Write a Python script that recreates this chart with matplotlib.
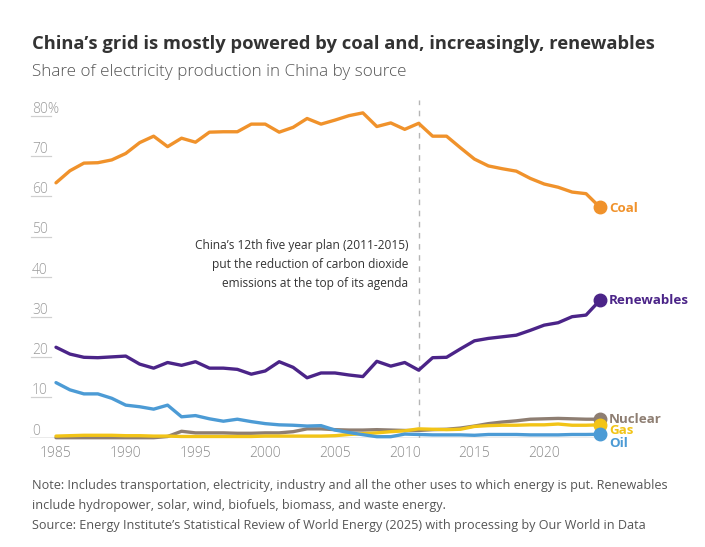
import matplotlib
matplotlib.use("Agg")
import matplotlib.pyplot as plt
import matplotlib.transforms as mtransforms

years = list(range(1985, 2025))
coal = [63.4, 66.4, 68.3, 68.4, 69.1, 70.7, 73.4, 75.0, 72.4, 74.5,
        73.5, 76.0, 76.1, 76.1, 78.0, 78.0, 76.0, 77.2, 79.4, 78.0,
        79.0, 80.1, 80.8, 77.4, 78.3, 76.7, 78.2, 75.0, 75.0, 72.1,
        69.3, 67.6, 66.9, 66.3, 64.5, 63.1, 62.3, 61.1, 60.7, 57.3]
renewables = [22.5, 20.8, 20.0, 19.9, 20.1, 20.3, 18.3, 17.3, 18.7, 18.0,
              18.9, 17.3, 17.3, 17.0, 15.8, 16.6, 18.9, 17.5, 14.9, 16.1,
              16.1, 15.6, 15.2, 19.0, 17.8, 18.7, 16.8, 19.9, 20.0, 22.1,
              24.1, 24.7, 25.1, 25.5, 26.7, 28.0, 28.6, 30.1, 30.5, 34.2]
oil = [13.7, 11.9, 10.9, 10.9, 9.8, 8.1, 7.7, 7.1, 8.1, 5.2,
       5.5, 4.7, 4.1, 4.6, 4.0, 3.5, 3.2, 3.1, 2.9, 3.0,
       1.9, 1.3, 0.75, 0.25, 0.25, 0.9, 0.8, 0.7, 0.7, 0.7,
       0.6, 0.8, 0.8, 0.8, 0.7, 0.7, 0.7, 0.8, 0.8, 0.85]
gas = [0.4, 0.5, 0.6, 0.6, 0.6, 0.5, 0.5, 0.4, 0.4, 0.3,
       0.3, 0.3, 0.3, 0.3, 0.3, 0.4, 0.4, 0.4, 0.4, 0.4,
       0.5, 0.8, 1.0, 1.2, 1.5, 1.7, 2.2, 2.1, 2.0, 2.1,
       2.8, 3.0, 3.1, 3.1, 3.2, 3.2, 3.4, 3.1, 3.1, 3.2]
nuclear = [0.0, 0.0, 0.0, 0.0, 0.0, 0.0, 0.0, 0.0, 0.3, 1.6,
           1.2, 1.2, 1.2, 1.1, 1.1, 1.2, 1.2, 1.5, 2.2, 2.2,
           2.0, 1.9, 1.9, 2.0, 1.9, 1.8, 1.8, 2.0, 2.1, 2.4,
           2.9, 3.5, 3.9, 4.2, 4.6, 4.7, 4.8, 4.7, 4.6, 4.6]

yticks = [0, 10, 20, 30, 40, 50, 60, 70, 80]
ytick_labels = ["0", "10", "20", "30", "40", "50", "60", "70", "80%"]
xticks = [1985, 1990, 1995, 2000, 2005, 2010, 2015, 2020]

C_COAL = "#F0922B"
C_REN = "#4B2488"
C_OIL = "#4C9BD5"
C_GAS = "#F2C417"
C_NUC = "#8E7E72"

plt.rcParams['font.family'] = ['Open Sans', 'DejaVu Sans']

W, H = 705, 547
fig = plt.figure(figsize=(W / 100, H / 100), dpi=100)
ax_left, ax_right = 30 / W, 600 / W
ax_bottom = 1 - 437.7 / H
ax_top = 1 - 100 / H
ax = fig.add_axes([ax_left, ax_bottom, ax_right - ax_left, ax_top - ax_bottom])
ax.set_xlim(1985 - 26 / 13.95, 2024)
ax.set_ylim(0, 84)
for s in ax.spines.values():
    s.set_visible(False)
ax.set_yticks([])
ax.set_xticks(xticks)
ax.set_xticklabels([str(x) for x in xticks], color="#8a8a8a", fontsize=10,
                   fontweight="light")
ax.tick_params(axis="x", length=0, pad=6)

# baseline
ax.axhline(0, color="#9a9a9a", lw=1.0, zorder=1)

# y labels with short underlines
trans = mtransforms.blended_transform_factory(fig.transFigure, ax.transData)
for v, lab in zip(yticks, ytick_labels):
    ax.text(32 / W, v - 0.2, lab, transform=trans, ha="left", va="bottom",
            fontsize=10, color="#9a9a9a", fontweight="light")
    if v > 0:
        ax.plot([31 / W, 51 / W], [v, v], transform=trans, color="#d0d0d0",
                lw=0.9, clip_on=False)

# dashed line for 2011
ax.axvline(2011, ymin=0, ymax=1, color="#b5b5b5", lw=1.0,
           dashes=(4, 4), zorder=1)
ax.text(2011 - 0.75, 49.5,
        "China’s 12th five year plan (2011-2015)\nput the reduction of carbon dioxide\nemissions at the top of its agenda",
        ha="right", va="top", fontsize=8.6, color="#333333", linespacing=1.62)

lw = 2.4
series = [
    (nuclear, C_NUC, "Nuclear", 0.05),
    (gas, C_GAS, "Gas", -1.5),
    (oil, C_OIL, "Oil", -2.4),
    (renewables, C_REN, "Renewables", 0.0),
    (coal, C_COAL, "Coal", -0.3),
]
for vals, col, name, off in series:
    ax.plot(years, vals, color=col, lw=lw, solid_capstyle="round",
            solid_joinstyle="round", zorder=3, clip_on=False)
    ax.plot([years[-1]], [vals[-1]], "o", color=col, ms=9, zorder=4,
            clip_on=False)
    ax.text(years[-1] + 0.65, vals[-1] + off, name, ha="left", va="center",
            fontsize=9.6, fontweight="bold", color=col)

# titles
fig.text(32 / W, 1 - 44 / H,
         "China’s grid is mostly powered by coal and, increasingly, renewables",
         ha="left", va="center", fontsize=13.2, fontweight="bold",
         color="#333333")
fig.text(32 / W, 1 - 72.5 / H, "Share of electricity production in China by source",
         ha="left", va="center", fontsize=12.3, color="#555555",
         fontweight="light")

# notes
fig.text(32 / W, 1 - 485 / H,
         "Note: Includes transportation, electricity, industry and all the other uses to which energy is put. Renewables",
         ha="left", va="center", fontsize=9.1, color="#555555")
fig.text(32 / W, 1 - 505 / H,
         "include hydropower, solar, wind, biofuels, biomass, and waste energy.",
         ha="left", va="center", fontsize=9.1, color="#555555")
fig.text(32 / W, 1 - 526 / H,
         "Source: Energy Institute’s Statistical Review of World Energy (2025) with processing by Our World in Data",
         ha="left", va="center", fontsize=9.1, color="#555555")

fig.savefig("out.png", dpi=100)
